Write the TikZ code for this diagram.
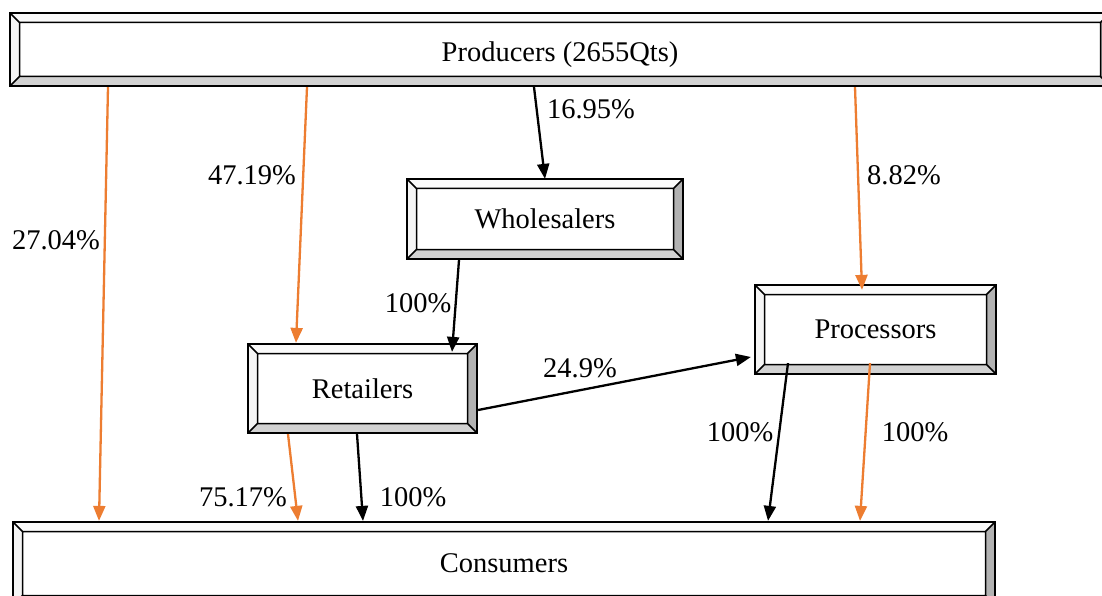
\documentclass[tikz,border=0pt]{standalone}
\usepackage{fontspec}
\setmainfont{Liberation Serif}
\usetikzlibrary{arrows.meta}
\definecolor{arrorange}{RGB}{237,125,49}
\newcommand{\bvw}{9.5pt}
\newcommand{\mybevel}{%
  \path (path picture bounding box.north west) coordinate (oNW)
        (path picture bounding box.north east) coordinate (oNE)
        (path picture bounding box.south west) coordinate (oSW)
        (path picture bounding box.south east) coordinate (oSE);
  \path ([xshift=\bvw,yshift=-\bvw]oNW) coordinate (iNW)
        ([xshift=-\bvw,yshift=-\bvw]oNE) coordinate (iNE)
        ([xshift=\bvw,yshift=\bvw]oSW) coordinate (iSW)
        ([xshift=-\bvw,yshift=\bvw]oSE) coordinate (iSE);
  \fill[gray!4] (oNW) -- (oNE) -- (iNE) -- (iNW) -- cycle;
  \fill[gray!8] (oNW) -- (iNW) -- (iSW) -- (oSW) -- cycle;
  \fill[gray!60] (oNE) -- (oSE) -- (iSE) -- (iNE) -- cycle;
  \fill[gray!35] (oSW) -- (oSE) -- (iSE) -- (iSW) -- cycle;
  \draw[line width=1.5pt] (iNW) rectangle (iSE) (oNW)--(iNW) (oNE)--(iNE) (oSW)--(iSW) (oSE)--(iSE);
}
\tikzset{
  bevelbox/.style={draw=black, line width=2.2pt, fill=white, inner sep=0pt,
    font=\fontsize{28.5}{32}\selectfont, path picture={\mybevel}},
  lbl/.style={font=\fontsize{28.5}{32}\selectfont, inner sep=0pt},
  conn/.style={line width=2.3pt, draw=black, -{Triangle[length=15pt,width=12pt]}},
  oconn/.style={conn, draw=arrorange},
}
\begin{document}
\begin{tikzpicture}[x=1pt,y=-1pt]
\useasboundingbox[fill=white] (0,0) rectangle (1102,596);
% boxes
\node[bevelbox, minimum width=1100pt, minimum height=73pt, text depth=0pt] (prod) at (560,49.5) {\raisebox{-4pt}{Producers (2655Qts)}};
\node[bevelbox, minimum width=276pt, minimum height=80pt] (whole) at (545,219) {Wholesalers};
\node[bevelbox, minimum width=229pt, minimum height=89pt] (ret) at (362.5,388.5) {Retailers};
\node[bevelbox, minimum width=241pt, minimum height=89pt] (proc) at (875.5,329.5) {Processors};
\node[bevelbox, minimum width=982pt, minimum height=83pt] (cons) at (504,563.5) {Consumers};
% connectors
\draw[oconn] ([xshift=-452pt]prod.south) -- ([xshift=-405pt]cons.north);
\draw[oconn] ([xshift=-253pt]prod.south) -- ([xshift=-66.5pt]ret.north);
\draw[conn] ([xshift=-26pt]prod.south) -- ([yshift=-1pt]whole.north);
\draw[oconn] ([xshift=295pt]prod.south) -- ([xshift=-13.5pt,yshift=-6pt]proc.north);
\draw[conn] ([xshift=-86pt]whole.south) -- ([xshift=89.5pt,yshift=-9pt]ret.north);
\draw[conn] ([yshift=-21.5pt]ret.east) -- ([xshift=-3pt,yshift=-27.5pt]proc.west);
\draw[oconn] ([xshift=-74.5pt]ret.south) -- ([xshift=-206pt]cons.north);
\draw[conn] ([xshift=-5.5pt]ret.south) -- ([xshift=-141pt]cons.north);
\draw[conn] ([xshift=-87.5pt,yshift=12pt]proc.south) -- ([xshift=264pt]cons.north);
\draw[oconn] ([xshift=-5.5pt,yshift=12pt]proc.south) -- ([xshift=356pt]cons.north);
% labels
\node[lbl] (l1) at (56,240) {27.04\%};
\node[lbl] (l2) at (252,175) {47.19\%};
\node[lbl] (l3) at (591,109) {16.95\%};
\node[lbl] (l4) at (904,175) {8.82\%};
\node[lbl] (l5) at (418,303) {100\%};
\node[lbl] (l6) at (580,368) {24.9\%};
\node[lbl] (l7) at (243,497) {75.17\%};
\node[lbl] (l8) at (413,497) {100\%};
\node[lbl] (l9) at (740,432) {100\%};
\node[lbl] (l10) at (915,432) {100\%};
\end{tikzpicture}
\end{document}
